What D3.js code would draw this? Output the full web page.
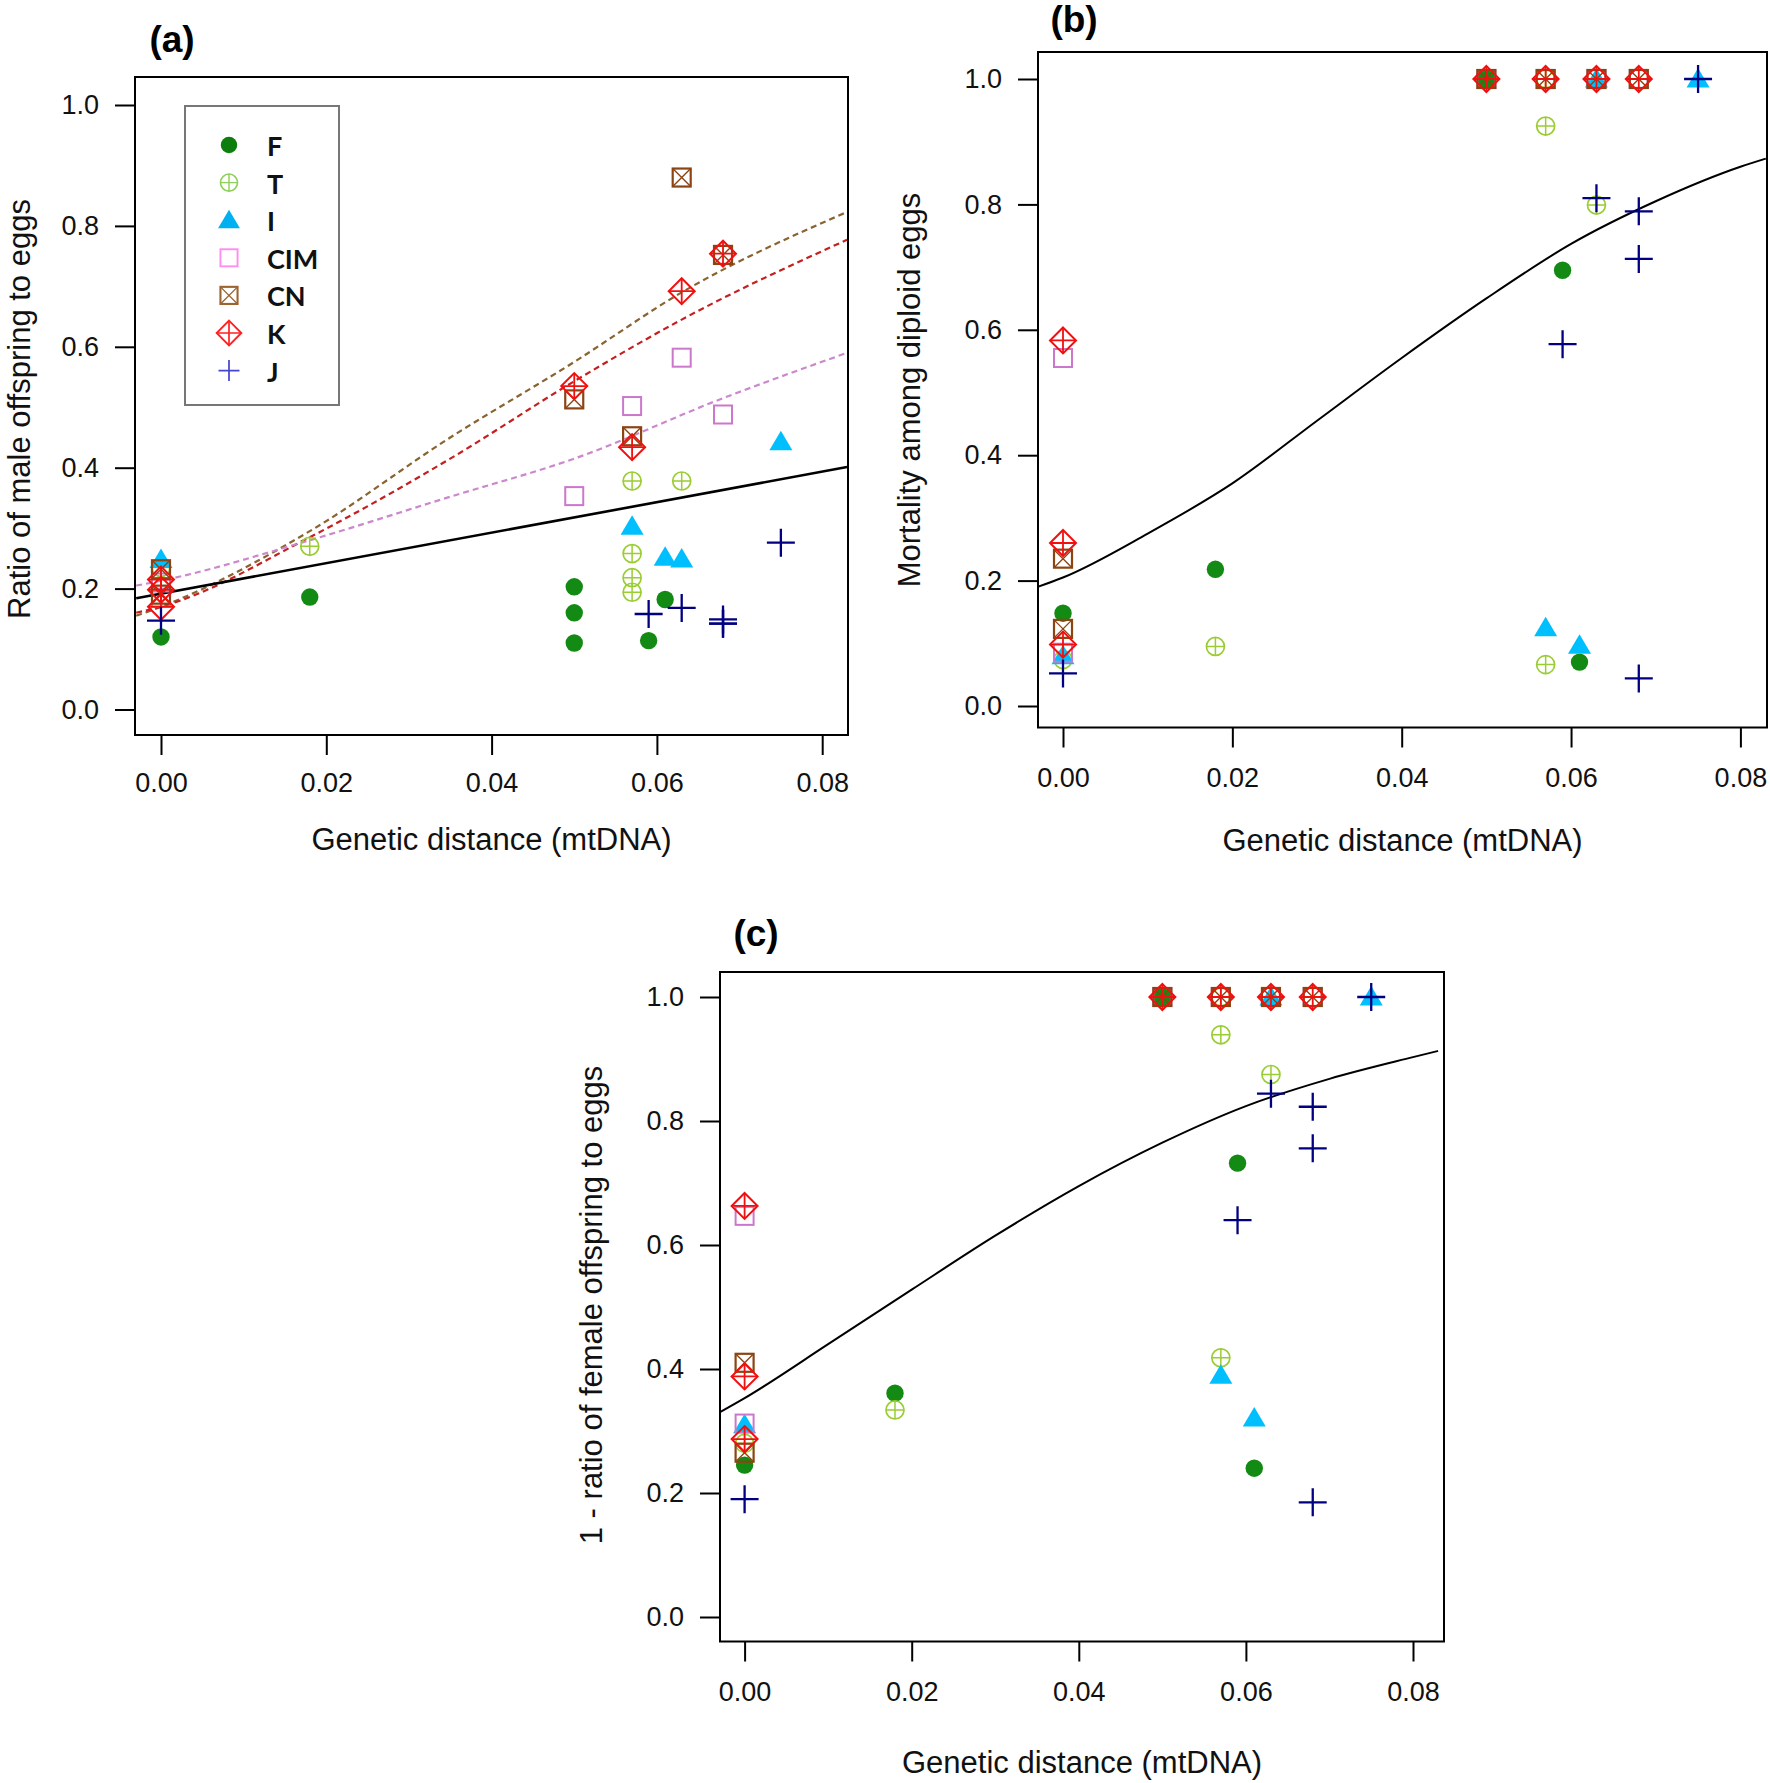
<!DOCTYPE html>
<html><head><meta charset="utf-8">
<script src="https://cdn.jsdelivr.net/npm/d3@7"></script>
<style>body{margin:0;background:#fff} svg{display:block}</style>
</head><body>
<svg id="chart" width="1770" height="1783"></svg>
<script>
// ---------------- DATA ----------------
const species = ["F", "T", "I", "CIM", "CN", "K", "J"];
const xTicks = [0, 0.02, 0.04, 0.06, 0.08];
const yTicks = [0, 0.2, 0.4, 0.6, 0.8, 1.0];

// genetic distance (mtDNA) of each cross, per female strain
const xF   = [0, 0.018, 0.05, 0.05, 0.05, 0.059, 0.061];
const xT   = [0, 0.018, 0.057, 0.057, 0.057, 0.057, 0.063];
const xI   = [0, 0.057, 0.061, 0.063, 0.075];
const xCIM = [0, 0, 0.05, 0.057, 0.063, 0.068];
const xCN  = [0, 0, 0.05, 0.057, 0.063, 0.068];
const xK   = [0, 0, 0, 0.05, 0.057, 0.063, 0.068];
const xJ   = [0, 0.059, 0.063, 0.068, 0.068, 0.068, 0.075];

// (a) ratio of male offspring to eggs
const maleF   = [0.12, 0.186, 0.203, 0.16, 0.11, 0.114, 0.182];
const maleT   = [0.235, 0.27, 0.378, 0.258, 0.218, 0.194, 0.378];
const maleI   = [0.248, 0.303, 0.252, 0.249, 0.443];
const maleCIM = [0.21, 0.185, 0.353, 0.502, 0.582, 0.488];
const maleCN  = [0.232, 0.19, 0.513, 0.452, 0.88, 0.752];
const maleK   = [0.215, 0.198, 0.17, 0.535, 0.434, 0.692, 0.754];
const maleJ   = [0.147, 0.158, 0.168, 0.149, 0.142, 0.142, 0.276];

// (b) mortality among diploid eggs
const mortF   = [0.148, 0.218, 1, 1, 1, 0.695, 0.07];
const mortT   = [0.074, 0.095, 0.925, 0.066, 1, 1, 0.799];
const mortI   = [0.08, 0.125, 0.097, 1, 1];
const mortCIM = [0.555, 0.085, 1, 1, 1, 1];
const mortCN  = [0.235, 0.123, 1, 1, 1, 1];
const mortK   = [0.583, 0.26, 0.098, 1, 1, 1, 1];
const mortJ   = [0.052, 0.577, 0.81, 0.789, 0.713, 0.044, 1];

// (c) 1 - ratio of female offspring to eggs
const femF   = [0.245, 0.361, 1, 1, 1, 0.732, 0.24];
const femT   = [0.28, 0.334, 0.939, 0.418, 1, 1, 0.875];
const femI   = [0.31, 0.39, 0.321, 1, 1];
const femCIM = [0.647, 0.312, 1, 1, 1, 1];
const femCN  = [0.41, 0.265, 1, 1, 1, 1];
const femK   = [0.663, 0.388, 0.287, 1, 1, 1, 1];
const femJ   = [0.19, 0.64, 0.844, 0.823, 0.756, 0.185, 1];

// fitted curves
const aAllX   = [-0.003, 0.083];
const aAllY   = [0.184, 0.401];
const aCNX    = [-0.003, 0, 0.018, 0.035, 0.05, 0.063, 0.083];
const aCNY    = [0.155, 0.17, 0.295, 0.45, 0.575, 0.69, 0.823];
const aKX     = [-0.003, 0, 0.018, 0.035, 0.05, 0.063, 0.083];
const aKY     = [0.16, 0.17, 0.285, 0.415, 0.543, 0.645, 0.777];
const aCIMX   = [-0.003, 0, 0.018, 0.035, 0.05, 0.068, 0.083];
const aCIMY   = [0.205, 0.213, 0.28, 0.352, 0.415, 0.515, 0.59];
const fitX    = [-0.003, 0, 0.01, 0.02, 0.03, 0.04, 0.05, 0.06, 0.07, 0.08, 0.083];
const bFitY   = [0.19, 0.205, 0.275, 0.355, 0.455, 0.555, 0.65, 0.737, 0.805, 0.86, 0.873];
const cFitY   = [0.33, 0.353, 0.44, 0.528, 0.615, 0.695, 0.765, 0.824, 0.868, 0.903, 0.913];

// ---------------- STYLE ----------------
const plotColor = {F:"#138a13", T:"#9acd32", I:"#00bfff", CIM:"#cc77cc", CN:"#8b4513", K:"#f01010", J:"#000080"};
const legColor  = {F:"#0d7d0d", T:"#8fd05a", I:"#00b0f0", CIM:"#ff8cf0", CN:"#9c6430", K:"#ff2222", J:"#4646cc"};
const FONT = "'Liberation Sans', Arial, sans-serif";

const svg = d3.select("#chart");
svg.append("rect").attr("width",1770).attr("height",1783).attr("fill","#fff");

function drawMarker(g, sp, cx, cy, col, s) {
  s = s || 1;
  const m = g.append("g").attr("transform", `translate(${cx},${cy}) scale(${s})`);
  if (sp === "F") {
    m.append("circle").attr("r", 8.7).attr("fill", col);
  } else if (sp === "T") {
    m.append("circle").attr("r", 9).attr("fill","none").attr("stroke",col).attr("stroke-width",1.7);
    m.append("path").attr("d","M-9,0H9M0,-9V9").attr("stroke",col).attr("stroke-width",1.5);
  } else if (sp === "I") {
    m.append("path").attr("d","M0,-11L11.5,8.5L-11.5,8.5Z").attr("fill",col);
  } else if (sp === "CIM") {
    m.append("rect").attr("x",-9).attr("y",-9).attr("width",18).attr("height",18)
      .attr("fill","none").attr("stroke",col).attr("stroke-width",2);
  } else if (sp === "CN") {
    m.append("rect").attr("x",-9).attr("y",-9).attr("width",18).attr("height",18)
      .attr("fill","none").attr("stroke",col).attr("stroke-width",2.2);
    m.append("path").attr("d","M-9,-9L9,9M9,-9L-9,9").attr("stroke",col).attr("stroke-width",1.4);
  } else if (sp === "K") {
    m.append("path").attr("d","M0,-13L13,0L0,13L-13,0Z").attr("fill","none").attr("stroke",col).attr("stroke-width",2);
    m.append("path").attr("d","M-13,0H13M0,-13V13").attr("stroke",col).attr("stroke-width",1.8);
  } else if (sp === "J") {
    m.append("path").attr("d","M-14,0H14M0,-14V14").attr("stroke",col).attr("stroke-width",2.3);
  }
}

const panels = [
  { id:"a", label:"(a)", labelPos:[172,52], box:[135,77,848,735], x0:161, x8:822.2, y0:709.5, y1:105,
    ytitle:"Ratio of male offspring to eggs", ytitlePos:[29.5,409], xtitleY:850, tickPad:18,
    data:{F:maleF,T:maleT,I:maleI,CIM:maleCIM,CN:maleCN,K:maleK,J:maleJ} },
  { id:"b", label:"(b)", labelPos:[1074,32], box:[1038,52,1767,727.5], x0:1063, x8:1740.4, y0:706, y1:79,
    ytitle:"Mortality among diploid eggs", ytitlePos:[920,390], xtitleY:851, tickPad:20,
    data:{F:mortF,T:mortT,I:mortI,CIM:mortCIM,CN:mortCN,K:mortK,J:mortJ} },
  { id:"c", label:"(c)", labelPos:[756,946], box:[720,972,1444,1641.5], x0:744.6, x8:1413, y0:1617, y1:997,
    ytitle:"1 - ratio of female offspring to eggs", ytitlePos:[601.5,1305], xtitleY:1773, tickPad:20,
    data:{F:femF,T:femT,I:femI,CIM:femCIM,CN:femCN,K:femK,J:femJ} }
];
const xsBySpecies = {F:xF,T:xT,I:xI,CIM:xCIM,CN:xCN,K:xK,J:xJ};

panels.forEach(p => {
  const [L,T,R,B] = p.box;
  const x = d3.scaleLinear().domain([0, 0.08]).range([p.x0, p.x8]);
  const y = d3.scaleLinear().domain([0, 1]).range([p.y0, p.y1]);
  const g = svg.append("g");

  svg.append("clipPath").attr("id","clip-"+p.id).append("rect")
     .attr("x",L).attr("y",T).attr("width",R-L).attr("height",B-T);

  // axes
  const xa = g.append("g").attr("transform",`translate(0,${B})`)
    .call(d3.axisBottom(x).tickValues(xTicks).tickFormat(d3.format(".2f")).tickSize(20).tickPadding(p.tickPad));
  const ya = g.append("g").attr("transform",`translate(${L},0)`)
    .call(d3.axisLeft(y).tickValues(yTicks).tickFormat(d3.format(".1f")).tickSize(20).tickPadding(16));
  [xa, ya].forEach(a => {
    a.select(".domain").remove();
    a.selectAll("line").attr("stroke","#000").attr("stroke-width",2);
    a.selectAll("text").attr("font-family",FONT).attr("font-size",27).attr("fill","#111");
  });

  // box
  g.append("rect").attr("x",L).attr("y",T).attr("width",R-L).attr("height",B-T)
   .attr("fill","none").attr("stroke","#000").attr("stroke-width",2);

  // titles
  g.append("text").attr("x",p.labelPos[0]).attr("y",p.labelPos[1]).attr("text-anchor","middle")
   .attr("font-family",FONT).attr("font-weight","bold").attr("font-size",37).text(p.label);
  g.append("text").attr("x",(L+R)/2).attr("y",p.xtitleY).attr("text-anchor","middle")
   .attr("font-family",FONT).attr("font-size",31).attr("fill","#111").text("Genetic distance (mtDNA)");
  g.append("text").attr("transform",`translate(${p.ytitlePos[0]},${p.ytitlePos[1]}) rotate(-90)`)
   .attr("text-anchor","middle").attr("font-family",FONT).attr("font-size",31).attr("fill","#111").text(p.ytitle);

  const plot = g.append("g").attr("clip-path",`url(#clip-${p.id})`);
  const line = d3.line().x(d => x(d[0])).y(d => y(d[1])).curve(d3.curveMonotoneX);

  if (p.id === "a") {
    [[aCNX,aCNY,"#8a6430"],[aKX,aKY,"#c42020"],[aCIMX,aCIMY,"#cc88cc"]].forEach(([xs,ys,c]) => {
      plot.append("path").attr("d", line(xs.map((v,i)=>[v,ys[i]])))
        .attr("fill","none").attr("stroke",c).attr("stroke-width",2.2).attr("stroke-dasharray","6,4");
    });
    plot.append("path").attr("d", line(aAllX.map((v,i)=>[v,aAllY[i]])))
      .attr("fill","none").attr("stroke","#000").attr("stroke-width",2.6);
  } else {
    const ys = p.id === "b" ? bFitY : cFitY;
    plot.append("path").attr("d", line(fitX.map((v,i)=>[v,ys[i]])))
      .attr("fill","none").attr("stroke","#000").attr("stroke-width",2);
  }

  species.forEach(sp => {
    const xs = xsBySpecies[sp], ys = p.data[sp];
    xs.forEach((xv,i) => drawMarker(plot, sp, x(xv), y(ys[i]), plotColor[sp]));
  });

  if (p.id === "a") {
    const lg = g.append("g");
    lg.append("rect").attr("x",185).attr("y",106).attr("width",154).attr("height",299)
      .attr("fill","#fff").attr("stroke","#777").attr("stroke-width",2);
    species.forEach((sp,i) => {
      const cy = 145 + i*37.6;
      drawMarker(lg, sp, 229, cy, legColor[sp], sp === "J" ? 0.75 : 0.95);
      lg.append("text").attr("x",267).attr("y",cy+11).attr("font-family","Lato, 'Open Sans', sans-serif")
        .attr("font-weight","bold").attr("font-size",27).attr("fill","#111").text(sp);
    });
  }
});
</script>
</body></html>
